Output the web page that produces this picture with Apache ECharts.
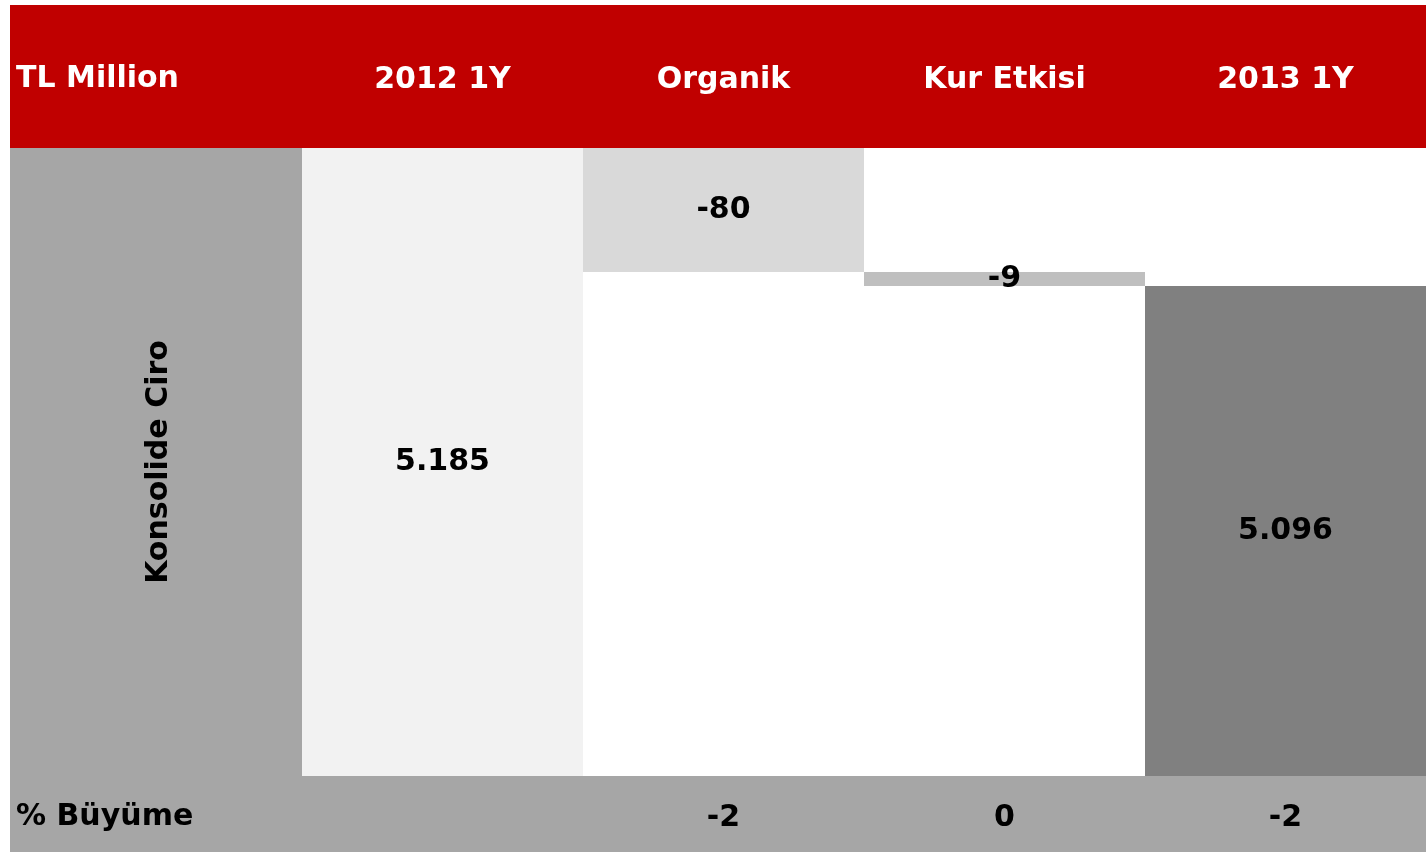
<!DOCTYPE html>
<html>
<head>
<meta charset="utf-8">
<script src="https://cdn.jsdelivr.net/npm/echarts@6/dist/echarts.min.js"></script>
<style>
  html, body { margin: 0; padding: 0; background: #fff; }
  #chart { width: 1426px; height: 852px; }
</style>
</head>
<body>
<div id="chart"></div>
<script>
// kategoriler ve değerler
const categories = ['2012 1Y', 'Organik', 'Kur Etkisi', '2013 1Y'];
const values = [5185, -80, -9, 5096];
const isTotal = [true, false, false, true];
const growth = ['', '-2', '0', '-2'];

const barColors = ['#f2f2f2', '#d9d9d9', '#bfbfbf', '#808080'];
const FONT = '"DejaVu Sans", sans-serif';

// 5185 -> "5.185"
function trNum(v) {
  const s = String(Math.abs(v)).replace(/\B(?=(\d{3})+(?!\d))/g, '.');
  return (v < 0 ? '-' : '') + s;
}

// waterfall: görünmez taban + görünen kısım
const baseData = [];
const barData = [];
let running = 0;
values.forEach((v, i) => {
  if (isTotal[i]) {
    baseData.push(0);
    barData.push(v);
    running = v;
  } else {
    const next = running + v;
    baseData.push(Math.min(running, next));
    barData.push(Math.abs(v));
    running = next;
  }
});

const chart = echarts.init(document.getElementById('chart'));

const option = {
  animation: false,
  backgroundColor: '#fff',
  grid: { left: 302, right: 0, top: 148, bottom: 76 },
  graphic: [
    { type: 'rect', z: -10, shape: { x: 10, y: 5, width: 1416, height: 143 }, style: { fill: '#c00000' } },
    { type: 'rect', z: -10, shape: { x: 10, y: 148, width: 292, height: 628 }, style: { fill: '#a6a6a6' } },
    { type: 'rect', z: -10, shape: { x: 10, y: 776, width: 1416, height: 76 }, style: { fill: '#a6a6a6' } },
    { type: 'text', left: 16, top: 64, style: { text: 'TL Million', fill: '#fff', font: 'bold 30px ' + FONT } },
    { type: 'text', left: 16, top: 802, style: { text: '% Büyüme', fill: '#000', font: 'bold 30px ' + FONT } }
  ],
  xAxis: [
    {
      type: 'category',
      position: 'top',
      data: categories,
      axisLine: { show: false },
      axisTick: { show: false },
      axisLabel: { margin: 53, color: '#fff', fontSize: 30, fontWeight: 'bold', fontFamily: FONT }
    },
    {
      type: 'category',
      position: 'bottom',
      data: growth,
      axisLine: { show: false },
      axisTick: { show: false },
      axisLabel: { margin: 27, color: '#000', fontSize: 30, fontWeight: 'bold', fontFamily: FONT, verticalAlign: 'top' }
    }
  ],
  yAxis: {
    type: 'value',
    min: 4780,
    max: 5185,
    name: 'Konsolide Ciro',
    nameLocation: 'middle',
    nameRotate: 90,
    nameGap: 128,
    nameTextStyle: { color: '#000', fontSize: 30, fontWeight: 'bold', fontFamily: FONT },
    axisLine: { show: false },
    axisTick: { show: false },
    axisLabel: { show: false },
    splitLine: { show: false }
  },
  series: [
    {
      type: 'bar',
      stack: 'wf',
      data: baseData,
      barWidth: '100%',
      itemStyle: { color: 'transparent' },
      silent: true
    },
    {
      type: 'bar',
      stack: 'wf',
      barWidth: '100%',
      data: barData.map((v, i) => ({ value: v, itemStyle: { color: barColors[i] } })),
      label: {
        show: true,
        position: 'inside',
        color: '#000',
        fontSize: 30,
        fontWeight: 'bold',
        fontFamily: FONT,
        formatter: p => trNum(values[p.dataIndex])
      }
    }
  ]
};

chart.setOption(option);
</script>
</body>
</html>
